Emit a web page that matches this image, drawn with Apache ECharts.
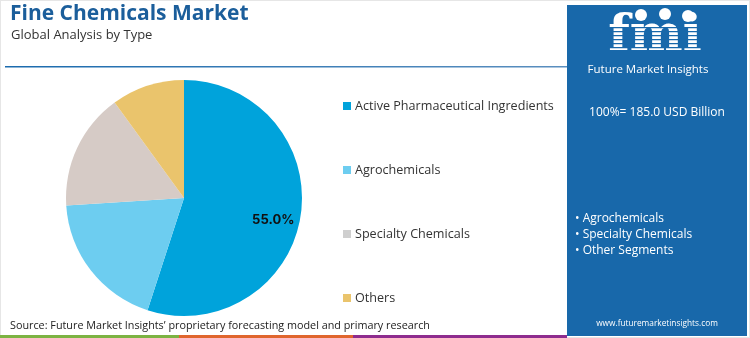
<!DOCTYPE html>
<html><head><meta charset="utf-8">
<script src="https://cdn.jsdelivr.net/npm/echarts@6/dist/echarts.min.js"></script>
<style>html,body{margin:0;padding:0;background:#fff}#c{width:750px;height:338px}</style>
</head><body><div id="c"></div>
<script>
const categories = ['Active Pharmaceutical Ingredients','Agrochemicals','Specialty Chemicals','Others'];
const shares = [55.0, 19.0, 16.0, 10.0];
const colors = ['#00A3DB','#6DCDF0','#D6CBC6','#EAC46C'];
const legendColors = ['#00A3DB','#6DCDF0','#CFCFCF','#EAC46C'];
const panelBullets = ['• Agrochemicals','• Specialty Chemicals','• Other Segments'];
const totalText = '100%= 185.0 USD Billion';
const FONT = '"Open Sans", sans-serif';
const PANEL = '#1868AA';

const chart = echarts.init(document.getElementById('c'));
const graphics = [
  {type:'rect', shape:{x:0,y:0,width:750,height:338}, style:{fill:'none',stroke:'#e6e6e6',lineWidth:2}, silent:true},
  {type:'text', left:10, top:4, style:{text:'Fine Chemicals Market', font:'bold 21px '+FONT, fill:'#1B5E9B'}},
  {type:'text', left:11, top:29, style:{text:'Global Analysis by Type', font:'13px '+FONT, fill:'#333'}},
  {type:'rect', shape:{x:5,y:66,width:562,height:1.5}, style:{fill:new echarts.graphic.LinearGradient(0,0,1,0,[{offset:0,color:'#1B6BAE'},{offset:1,color:'#5b8fbf'}])}},
  {type:'rect', shape:{x:567,y:5,width:180,height:331}, style:{fill:PANEL}},
  {type:'text', x:10, y:320, style:{text:'Source: Future Market Insights\u2019 proprietary forecasting model and primary research', font:'10.8px '+FONT, fill:'#222'}},
  {type:'rect', shape:{x:0,y:335,width:179,height:3}, style:{fill:'#7CB342'}},
  {type:'rect', shape:{x:179,y:335,width:174,height:3}, style:{fill:'#E0662E'}},
  {type:'rect', shape:{x:353,y:335,width:214,height:3}, style:{fill:'#8E2C8E'}},
  // logo
  {type:'text', x:655, y:62, style:{text:'fmi', font:'bold 50px "DejaVu Serif", serif', fill:'#fff', align:'center', verticalAlign:'bottom'}}
];
// stripes over logo letters
for (let y = 27; y < 62; y += 4) {
  graphics.push({type:'rect', shape:{x:595,y:y,width:120,height:1.3}, style:{fill:PANEL}});
}
graphics.push(
  {type:'circle', shape:{cx:641,cy:15,r:6}, style:{fill:'#fff'}},
  {type:'circle', shape:{cx:665,cy:14,r:6}, style:{fill:'#fff'}},
  {type:'circle', shape:{cx:688,cy:16,r:6}, style:{fill:'#fff'}},
  {type:'text', x:648, y:70, style:{text:'Future Market Insights', font:'11.5px '+FONT, fill:'#fff', align:'center', verticalAlign:'middle'}},
  {type:'text', x:657, y:113, style:{text:totalText, font:'12px '+FONT, fill:'#fff', align:'center', verticalAlign:'middle'}},
  {type:'text', x:657, y:324, style:{text:'www.futuremarketinsights.com', font:'8.3px '+FONT, fill:'#fff', align:'center', verticalAlign:'middle'}}
);
panelBullets.forEach((t,i)=>{
  graphics.push({type:'text', x:575, y:219+i*16, style:{text:t, font:'12px '+FONT, fill:'#fff', verticalAlign:'middle'}});
});
categories.forEach((c,i)=>{
  graphics.push({type:'rect', shape:{x:343,y:102+i*64,width:8,height:8}, style:{fill:legendColors[i]}});
  graphics.push({type:'text', x:355, y:106+i*64, style:{text:c, font:'12.6px '+FONT, fill:'#333', verticalAlign:'middle'}});
});

chart.setOption({
  animation:false,
  graphic: graphics,
  series:[{
    type:'pie',
    center:[184,198],
    radius:[0,118],
    startAngle:90,
    clockwise:true,
    data: categories.map((c,i)=>({name:c, value:shares[i], itemStyle:{color:colors[i]},
      label: i===0 ? {show:true} : {show:false}})),
    label:{position:'inside', formatter: p => p.value.toFixed(1)+'%', fontWeight:'bold', fontSize:13, fontFamily:'Inter, sans-serif', color:'#111'},
    labelLayout: p => ({dx:28, dy:12}),
    labelLine:{show:false},
    emphasis:{disabled:true}
  }]
});
</script></body></html>
